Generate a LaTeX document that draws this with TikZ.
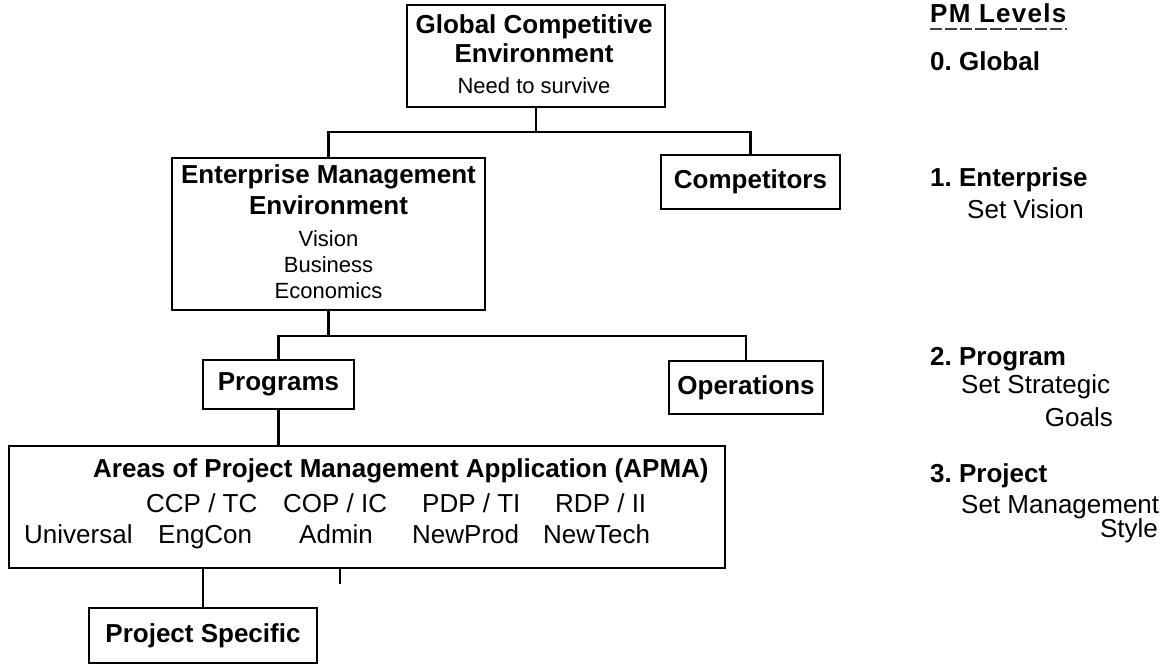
\documentclass[tikz,border=0pt]{standalone}
\usepackage{fontspec}
\setmainfont{Liberation Sans}
\frenchspacing
\begin{document}
\begin{tikzpicture}[x=1pt,y=-1pt,
  box/.style={draw=black, line width=2.8pt, rectangle, inner sep=0pt},
  link/.style={draw=black, line width=2.8pt},
  head/.style={font=\fontsize{26}{30}\selectfont\bfseries, inner sep=0pt},
  small/.style={font=\fontsize{22}{26}\selectfont, inner sep=0pt},
  plain/.style={font=\fontsize{26}{30}\selectfont, inner sep=0pt},
  boxtext/.style={font=\fontsize{26}{30}\selectfont\bfseries}]
\useasboundingbox (0,0) rectangle (1169,666);

% ---- boxes ----
\node[box, minimum width=258pt, minimum height=102pt] (glob) at (536,56) {};
\node[box, minimum width=313pt, minimum height=152pt] (ent) at (328.5,234) {};
\node[box, boxtext, minimum width=179pt, minimum height=54pt] (comp) at (750.5,182) {Competitors};
\node[box, boxtext, minimum width=151pt, minimum height=49pt] (prog) at (278.5,384.5) {Programs};
\node[box, boxtext, minimum width=154pt, minimum height=53pt] (oper) at (746,387.5) {Operations};
\node[box, minimum width=716pt, minimum height=122pt] (apma) at (367,507) {};
\node[box, boxtext, minimum width=228pt, minimum height=55pt] (spec) at (203,635.5) {Project Specific};

% ---- texts of the larger boxes ----
\node[head, anchor=base] (g1) at (534,34) {Global Competitive};
\node[head, anchor=base] (g2) at (534,63) {Environment};
\node[small, anchor=base] (g3) at (534,94) {Need to survive};

\node[head, anchor=base] (e1) at (328.5,183) {Enterprise Management};
\node[head, anchor=base] (e2) at (328.5,214) {Environment};
\node[small, anchor=base] (e3) at (328.5,246) {Vision};
\node[small, anchor=base] (e4) at (328.5,272) {Business};
\node[small, anchor=base] (e5) at (328.5,298) {Economics};

\node[head, anchor=base west] (a0) at (93,477) {Areas of Project Management Application (APMA)};
\node[plain, anchor=base west] (a1) at (146,512) {CCP / TC};
\node[plain, anchor=base west] (a2) at (283,512) {COP / IC};
\node[plain, anchor=base west] (a3) at (422,512) {PDP / TI};
\node[plain, anchor=base west] (a4) at (555,512) {RDP / II};
\node[plain, anchor=base west] (b0) at (24,543) {Universal};
\node[plain, anchor=base west] (b1) at (158,543) {EngCon};
\node[plain, anchor=base west] (b2) at (299,543) {Admin};
\node[plain, anchor=base west] (b3) at (412,543) {NewProd};
\node[plain, anchor=base west] (b4) at (543,543) {NewTech};

% ---- connectors ----
\coordinate (bus1) at (536,132);
\draw[link] (glob.south) -- (bus1);
\draw[link] (ent.north) |- (bus1) -| (comp.north);

\coordinate (bus2) at (328.5,336);
\draw[link] (ent.south) -- (bus2);
\draw[link] (prog.north) |- (bus2) -| (oper.north);

\draw[link] (prog.south) -- (prog.south |- apma.north);
\draw[link] (spec.north) -- (spec.north |- apma.south);
\coordinate (tick) at (340,584);
\draw[link] (tick |- apma.south) -- (tick);

% ---- level legend ----
\node[head, anchor=base west] (lv) at (930,23) {\addfontfeature{LetterSpace=5}PM Levels};
\draw[line width=1.6pt, black!75, dash pattern=on 12pt off 3pt] (lv.base west) ++(0,6) coordinate (ul) -- (ul -| lv.base east);
\node[head, anchor=base west] (l0) at (930,71) {0. Global};
\node[head, anchor=base west] (l1) at (930,186) {1. Enterprise};
\node[plain, anchor=base west] (l1a) at (967,218) {Set Vision};
\node[head, anchor=base west] (l2) at (930,365) {2. Program};
\node[plain, anchor=base west] (l2a) at (961,393) {Set Strategic};
\node[plain, anchor=base east] (l2b) at (1113,426) {Goals};
\node[head, anchor=base west] (l3) at (930,482) {3. Project};
\node[plain, anchor=base west] (l3a) at (961,513) {Set Management};
\node[plain, anchor=base east] (l3b) at (1158,537) {Style};
\end{tikzpicture}
\end{document}
